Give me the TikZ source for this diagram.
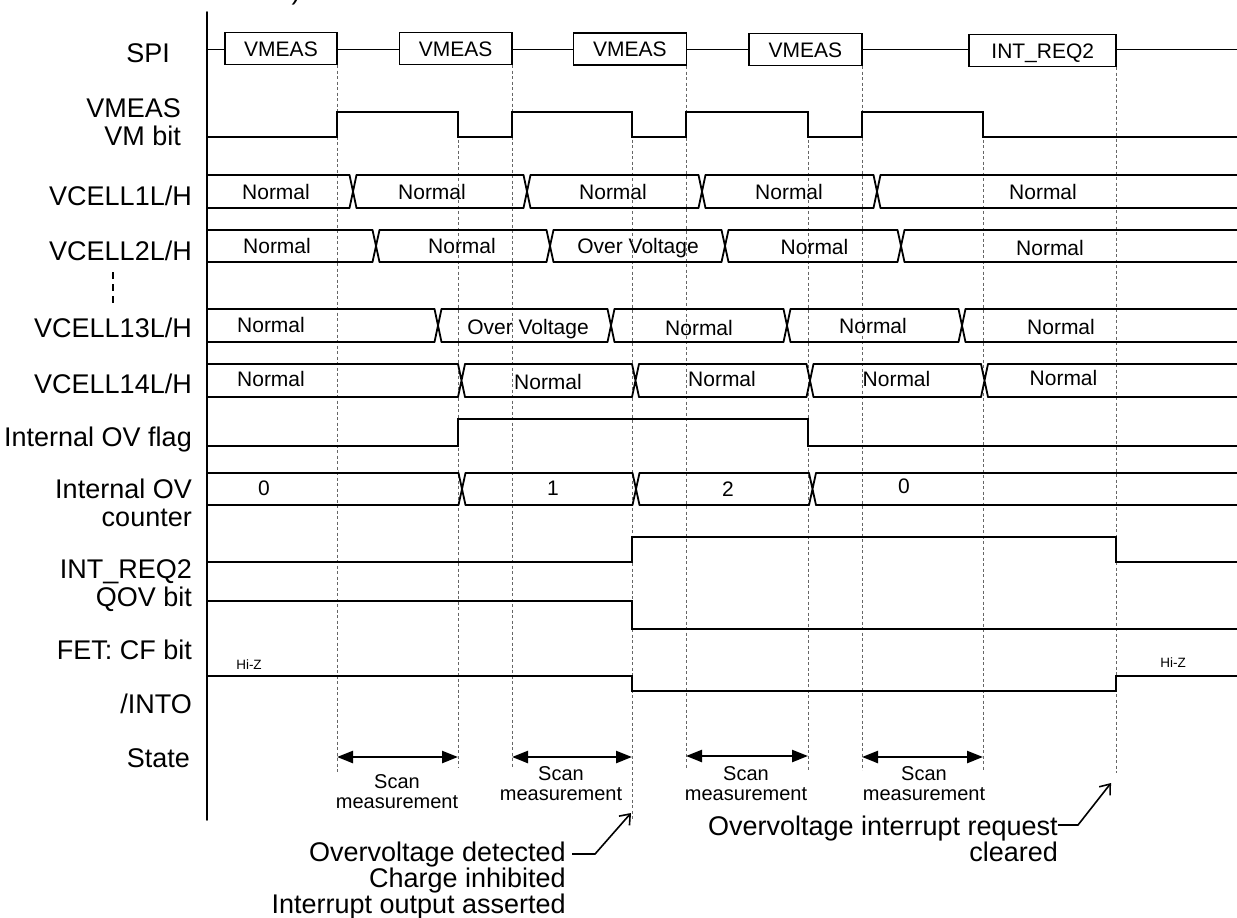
\documentclass[tikz,border=0pt]{standalone}
\usepackage{fontspec}
\setmainfont{Liberation Sans}
\usetikzlibrary{arrows.meta,calc}
\newcommand\fLbl{\fontsize{27}{28}\selectfont}
\newcommand\fIn{\fontsize{21}{22}\selectfont}
\newcommand\fScan{\fontsize{20}{20}\selectfont}
\newcommand\fHiz{\fontsize{13.5}{14}\selectfont}
\newcommand\drawbus[3]{%
  \foreach \t [remember=\t as \tprev (initially 203.5)] in {#3,1240.5} {%
    \draw[sig] (\tprev+3.5,#1) -- (\t-3.5,#1) (\tprev+3.5,#2) -- (\t-3.5,#2);
  }%
  \foreach \t in {#3} {%
    \draw[sig] (\t-3.5,#1) -- (\t+3.5,#2) (\t-3.5,#2) -- (\t+3.5,#1);
  }}
\begin{document}
\begin{tikzpicture}[x=1pt,y=-1pt,
  sig/.style={line width=1.8pt,line cap=round,line join=miter},
  guide/.style={line width=0.8pt,gray!80!black,dash pattern=on 3pt off 2.5pt},
  lbl/.style={font=\fLbl,inner sep=0pt,anchor=base east},
  intxt/.style={font=\fIn,inner sep=0pt,anchor=base},
  spibox/.style={draw,line width=1.8pt,font=\fIn,inner sep=0pt,minimum height=32pt,text height=15pt,text depth=0pt},
  scantxt/.style={font=\fScan,inner sep=0pt,align=center,anchor=north},
  scanarr/.style={line width=2.4pt,{Triangle[length=16pt,width=12pt]}-{Triangle[length=16pt,width=12pt]}},
  annarr/.style={line width=1.6pt,-{Straight Barb[length=9pt,width=14pt]}},
  hiz/.style={font=\fHiz,inner sep=0pt}]
\useasboundingbox (0,0) rectangle (1237,918);

% guide lines
\foreach \x/\a/\b in {337/65/773, 458/112/768, 512/65/768, 632/112/820, 686/66/768, 808/112/770, 862/66/770, 983/112/770, 1116/67/773}
  \draw[guide] (\x,\a) -- (\x,\b);

% axis
\draw[sig] (207,12) -- (207,820);
\node[lbl,anchor=base] (frag) at (296,-1) {)};

% labels
\node[lbl] (lspi) at (170,62) {SPI};
\node[lbl] (lvm1) at (181,117) {VMEAS};
\node[lbl] (lvm2) at (181,145) {VM bit};
\node[lbl] (lc1) at (192,205) {VCELL1L/H};
\node[lbl] (lc2) at (192,260) {VCELL2L/H};
\draw[line width=1.2pt,dash pattern=on 7pt off 5pt] (113,272) -- (113,305);
\node[lbl] (lc13) at (192,337) {VCELL13L/H};
\node[lbl] (lc14) at (192,393) {VCELL14L/H};
\node[lbl] (lflag) at (192,446) {Internal OV flag};
\node[lbl] (lcnt1) at (192,498) {Internal OV};
\node[lbl] (lcnt2) at (192,526) {counter};
\node[lbl] (lqov1) at (192,578) {INT\_REQ2};
\node[lbl] (lqov2) at (192,606) {QOV bit};
\node[lbl] (lcf) at (192,659) {FET: CF bit};
\node[lbl] (lint) at (192,713) {/INTO};
\node[lbl] (lst) at (190,767) {State};

% SPI
\node[spibox,minimum width=112pt] (b1) at (281,48.5) {VMEAS};
\node[spibox,minimum width=112.6pt] (b2) at (455.7,48.5) {VMEAS};
\node[spibox,minimum width=113pt] (b3) at (629.9,49) {VMEAS};
\node[spibox,minimum width=112.8pt] (b4) at (805.4,49.5) {VMEAS};
\node[spibox,minimum width=147pt] (b5) at (1042.75,50.5) {INT\_REQ2};
\coordinate (spiL) at (207,49.5);
\coordinate (spiR) at (1237,49.5);
\draw[sig] (spiL) -- (b1.west |- spiL);
\draw[sig] (b1.east |- spiL) -- (b2.west |- spiL);
\draw[sig] (b2.east |- spiL) -- (b3.west |- spiL);
\draw[sig] (b3.east |- spiL) -- (b4.west |- spiL);
\draw[sig] (b4.east |- spiL) -- (b5.west |- spiL);
\draw[sig] (b5.east |- spiL) -- (spiR);

% VM bit
\draw[sig] (207,137) -- (337,137) -- (337,112) -- (458,112) -- (458,137) -- (512,137) -- (512,112) -- (632,112) -- (632,137) -- (686,137) -- (686,112) -- (808,112) -- (808,137) -- (862,137) -- (862,112) -- (983,112) -- (983,137) -- (1237,137);

% buses
\drawbus{175}{208}{353,527,702,877}
\drawbus{230}{262}{376,550,725,901}
\drawbus{309}{342}{438,611,787,962}
\drawbus{364}{397}{461.5,635.5,810,984.5}
\drawbus{473}{505}{462,636,812.5}

\node[intxt] (v1a) at (276,199.5) {Normal};
\node[intxt] (v1b) at (432,199.5) {Normal};
\node[intxt] (v1c) at (613,199.5) {Normal};
\node[intxt] (v1d) at (789,199.5) {Normal};
\node[intxt] (v1e) at (1043,199.5) {Normal};

\node[intxt] (v2a) at (277,253) {Normal};
\node[intxt] (v2b) at (462,253) {Normal};
\node[intxt] (v2c) at (638,253) {Over Voltage};
\node[intxt] (v2d) at (814.5,254) {Normal};
\node[intxt] (v2e) at (1050,255) {Normal};

\node[intxt] (v13a) at (271,332) {Normal};
\node[intxt] (v13b) at (528,334) {Over Voltage};
\node[intxt] (v13c) at (699,335) {Normal};
\node[intxt] (v13d) at (873,333) {Normal};
\node[intxt] (v13e) at (1061,334) {Normal};

\node[intxt] (v14a) at (271,386.5) {Normal};
\node[intxt] (v14b) at (548,389.5) {Normal};
\node[intxt] (v14c) at (722,386.5) {Normal};
\node[intxt] (v14d) at (896.5,386.5) {Normal};
\node[intxt] (v14e) at (1063.5,385) {Normal};

\node[intxt] (ca) at (264,495) {0};
\node[intxt] (cb) at (553,495) {1};
\node[intxt] (cc) at (728,496) {2};
\node[intxt] (cd) at (904,493) {0};

% flag
\draw[sig] (207,446) -- (458,446) -- (458,419) -- (808,419) -- (808,446) -- (1237,446);
% QOV
\draw[sig] (207,562) -- (632,562) -- (632,537) -- (1116,537) -- (1116,562) -- (1237,562);
% CF
\draw[sig] (207,601) -- (632,601) -- (632,629) -- (1237,629);
% INTO
\draw[sig] (207,676) -- (632,676) -- (632,691) -- (1116,691) -- (1116,676) -- (1237,676);
\node[hiz] (hz1) at (249,665) {Hi-Z};
\node[hiz] (hz2) at (1173,663) {Hi-Z};

% scan arrows
\coordinate (s1a) at (337,757); \coordinate (s1b) at (458,757);
\coordinate (s2a) at (512,757); \coordinate (s2b) at (632,757);
\coordinate (s3a) at (686,756); \coordinate (s3b) at (808,756);
\coordinate (s4a) at (862,757); \coordinate (s4b) at (983,757);
\draw[scanarr] (s1a) -- (s1b);
\draw[scanarr] (s2a) -- (s2b);
\draw[scanarr] (s3a) -- (s3b);
\draw[scanarr] (s4a) -- (s4b);
\node[scantxt] (t1) at (397,774.5) {Scan\\measurement};
\node[scantxt] (t2) at (561,766.5) {Scan\\measurement};
\node[scantxt] (t3) at (746,766.5) {Scan\\measurement};
\node[scantxt] (t4) at (924,766.5) {Scan\\measurement};

% annotations
\node[lbl] (ovd) at (566,861) {Overvoltage detected};
\node[lbl] (chg) at (566,887) {Charge inhibited};
\node[lbl] (ioa) at (566,913) {Interrupt output asserted};
\coordinate (tip1) at (631,813);
\draw[annarr] ($(ovd.east)+(6,0)$) -- ++(23,0) -- (tip1);

\node[lbl] (oir) at (1058,835) {Overvoltage interrupt request};
\node[lbl] (clr) at (1058,861) {cleared};
\coordinate (tip2) at (1111,783);
\draw[annarr] ($(oir.east)+(0,-3)$) -- ++(20,0) -- (tip2);
\end{tikzpicture}
\end{document}
